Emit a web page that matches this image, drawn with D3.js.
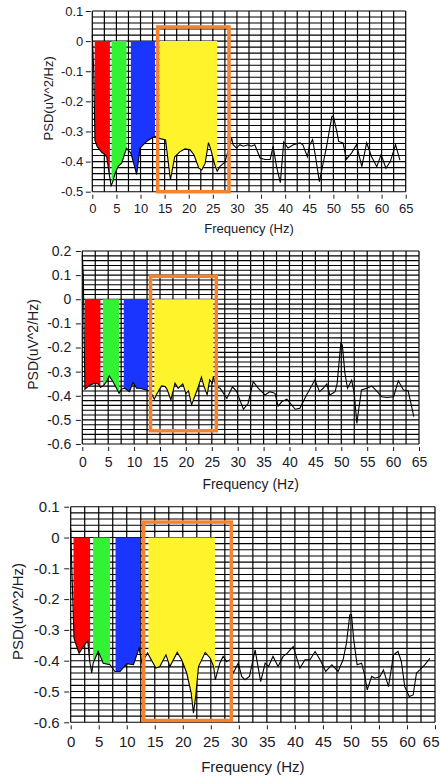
<!DOCTYPE html>
<html>
<head>
<meta charset="utf-8">
<script src="https://cdn.jsdelivr.net/npm/d3@7"></script>
<style>
  body { margin: 0; background: #fff; }
  svg { display: block; }
</style>
</head>
<body>
<div id="chart"></div>
<script>
// ---- data (Hz, PSD) ----
const xTicks = [0, 5, 10, 15, 20, 25, 30, 35, 40, 45, 50, 55, 60, 65];
const yTicksA = [0.1, 0, -0.1, -0.2, -0.3, -0.4, -0.5];
const yTicksB = [0.2, 0.1, 0, -0.1, -0.2, -0.3, -0.4, -0.5, -0.6];
const yTicksC = [0.1, 0, -0.1, -0.2, -0.3, -0.4, -0.5, -0.6];

const spectrumA = [
  [0, 0.02], [0.3, -0.1], [0.55, -0.33], [1.0, -0.35], [1.5, -0.36], [2.0, -0.37],
  [2.5, -0.375], [3.0, -0.385], [3.5, -0.44], [3.9, -0.48], [4.2, -0.47], [4.7, -0.44],
  [5.4, -0.415], [6.1, -0.405], [6.8, -0.37], [7.1, -0.356], [7.96, -0.371], [8.5, -0.4],
  [9.2, -0.443], [9.9, -0.355], [10.5, -0.345], [11.3, -0.333], [12.0, -0.325], [13.0, -0.316],
  [13.9, -0.323], [15.2, -0.328], [16.2, -0.461], [17.1, -0.384], [18.2, -0.367], [19.2, -0.358],
  [20.3, -0.361], [21.1, -0.378], [22.1, -0.422], [22.7, -0.428], [23.4, -0.406], [24.1, -0.337],
  [24.6, -0.361], [25.4, -0.41], [25.9, -0.432], [26.5, -0.416], [27.5, -0.402], [28.9, -0.322],
  [29.2, -0.344], [29.9, -0.355], [30.6, -0.344], [31.3, -0.349], [32.3, -0.344], [33.0, -0.349],
  [33.7, -0.344], [34.8, -0.388], [35.8, -0.393], [36.9, -0.393], [37.5, -0.349], [38.2, -0.416],
  [39.0, -0.47], [39.7, -0.335], [40.6, -0.355], [41.7, -0.344], [43.1, -0.338], [43.7, -0.345],
  [44.6, -0.384], [45.1, -0.344], [45.7, -0.327], [46.3, -0.384], [47.1, -0.467], [48.6, -0.349],
  [49.7, -0.25], [50.0, -0.25], [50.7, -0.3], [51.1, -0.333], [52.0, -0.338], [52.7, -0.392],
  [53.8, -0.371], [54.8, -0.344], [55.9, -0.417], [56.9, -0.338], [57.9, -0.383], [59.0, -0.417],
  [59.9, -0.377], [60.9, -0.422], [61.8, -0.4], [62.9, -0.344], [63.8, -0.395]
];

const spectrumB = [
  [0, 0.18], [0.2, 0.1], [0.5, -0.373], [1.5, -0.355], [2.4, -0.348], [3.1, -0.351],
  [3.5, -0.365], [4.1, -0.358], [4.7, -0.341], [5.2, -0.318], [5.9, -0.341], [6.6, -0.369],
  [7.1, -0.39], [7.6, -0.372], [8.2, -0.369], [9.1, -0.383], [9.8, -0.345], [10.5, -0.369],
  [11.1, -0.369], [12.4, -0.376], [13.1, -0.38], [13.9, -0.414], [14.3, -0.396], [15.3, -0.359],
  [16.0, -0.362], [16.4, -0.375], [17.1, -0.417], [17.9, -0.348], [18.5, -0.369], [19.4, -0.351],
  [20.0, -0.39], [20.5, -0.38], [21.1, -0.438], [21.7, -0.403], [22.4, -0.362], [23.0, -0.323],
  [23.5, -0.362], [24.1, -0.396], [24.6, -0.334], [25.1, -0.348], [25.3, -0.32], [25.8, -0.362],
  [26.6, -0.369], [27.9, -0.411], [29.0, -0.363], [29.8, -0.383], [31.1, -0.456], [32.0, -0.432],
  [33.0, -0.342], [34.0, -0.369], [35.3, -0.397], [36.2, -0.383], [37.2, -0.39], [37.8, -0.443],
  [38.5, -0.425], [39.5, -0.414], [41.1, -0.456], [42.0, -0.452], [43.3, -0.397], [44.9, -0.335],
  [45.8, -0.383], [46.5, -0.369], [47.2, -0.351], [47.8, -0.397], [48.8, -0.383], [49.2, -0.349],
  [49.9, -0.183], [50.2, -0.19], [50.7, -0.307], [51.2, -0.369], [52.0, -0.335], [52.5, -0.39],
  [53.0, -0.515], [53.3, -0.466], [53.9, -0.376], [54.9, -0.369], [55.9, -0.36], [56.8, -0.38],
  [57.8, -0.404], [58.8, -0.407], [60.1, -0.404], [61.0, -0.338], [62.0, -0.376], [62.9, -0.379],
  [64.0, -0.487]
];

const spectrumC = [
  [0, 0.03], [0.2, -0.1], [0.59, -0.327], [1.07, -0.354], [1.5, -0.376], [2.0, -0.362],
  [2.5, -0.348], [3.05, -0.335], [3.35, -0.397], [3.75, -0.44], [4.0, -0.408], [4.9, -0.37],
  [5.3, -0.386], [5.8, -0.408], [7.0, -0.413], [7.9, -0.435], [8.8, -0.435], [10.0, -0.41],
  [11.2, -0.413], [12.2, -0.359], [12.7, -0.408], [13.7, -0.375], [15.2, -0.424], [15.9, -0.419],
  [17.0, -0.381], [17.7, -0.419], [19.0, -0.373], [19.8, -0.397], [20.7, -0.44], [21.5, -0.505],
  [21.9, -0.57], [22.3, -0.516], [22.8, -0.419], [24.0, -0.373], [24.9, -0.392], [25.5, -0.419],
  [25.8, -0.462], [26.6, -0.408], [27.2, -0.386], [27.8, -0.403], [28.4, -0.397], [29.0, -0.44],
  [29.9, -0.408], [30.5, -0.451], [31.1, -0.462], [31.9, -0.451], [32.9, -0.365], [33.9, -0.468],
  [34.7, -0.408], [35.3, -0.419], [36.1, -0.386], [37.0, -0.419], [37.9, -0.386], [38.6, -0.376],
  [39.7, -0.354], [40.9, -0.424], [41.8, -0.397], [42.7, -0.397], [43.6, -0.37], [44.5, -0.397],
  [45.5, -0.435], [46.6, -0.413], [47.7, -0.435], [48.6, -0.397], [49.2, -0.343], [49.8, -0.251],
  [50.1, -0.251], [50.5, -0.332], [51.1, -0.413], [51.9, -0.408], [52.5, -0.451], [52.9, -0.495],
  [53.7, -0.451], [54.3, -0.457], [55.2, -0.451], [55.8, -0.43], [56.7, -0.484], [57.6, -0.381],
  [58.4, -0.37], [59.0, -0.403], [59.6, -0.484], [60.4, -0.516], [61.1, -0.511], [61.7, -0.44],
  [62.3, -0.43], [63.2, -0.413], [64.1, -0.392]
];

// frequency bands (delta, theta, alpha, beta) in Hz
const bandsA = [[0.5, 3.65], [4, 7.1], [8, 13], [13.9, 25.9]];
const bandsB = [[0.5, 3.5], [4, 7.1], [8, 12.5], [13.9, 25.3]];
const bandsC = [[0.5, 3.45], [4, 7], [8, 12.4], [13.85, 25.75]];

// highlight box: [Hz from, Hz to, PSD top, PSD bottom]
const boxA = [13.55, 28.35, 0.047, -0.5];
const boxB = [13.17, 25.87, 0.095, -0.545];
const boxC = [13.02, 28.66, 0.05, -0.594];

const bandColors = ['#ff0000', '#33f233', '#1a35ff', '#fff42c'];
const FONT = '"Liberation Sans", Arial, sans-serif';
const TEXT = '#1a1a2a';

const panels = [
  { spectrum: spectrumA, bands: bandsA, box: boxA, yTicks: yTicksA,
    left: 92.3, right: 405.7, top: 11, bottom: 191.7, font: 13,
    yPad: 2.5, xPad: 5.3, titleOff: 37, yTitleX: 48 },
  { spectrum: spectrumB, bands: bandsB, box: boxB, yTicks: yTicksB,
    left: 82.3, right: 419, top: 251, bottom: 444, font: 14,
    yPad: 4.5, xPad: 6.5, titleOff: 40, yTitleX: 33 },
  { spectrum: spectrumC, bands: bandsC, box: boxC, yTicks: yTicksC,
    left: 70.7, right: 435, top: 506.7, bottom: 722.3, font: 15,
    yPad: 4.5, xPad: 7, titleOff: 44.4, yTitleX: 18 }
];

const svg = d3.select('#chart')
  .append('svg')
  .attr('width', 440)
  .attr('height', 777);

svg.append('rect').attr('width', 440).attr('height', 777).attr('fill', '#fff');

const fmt = d => d === 0 ? '0' : d.toFixed(1);

function drawPanel(p, i) {
  const yMin = p.yTicks[p.yTicks.length - 1];
  const yMax = p.yTicks[0];
  const x = d3.scaleLinear().domain([0, 65]).range([p.left, p.right]);
  const y = d3.scaleLinear().domain([yMin, yMax]).range([p.bottom, p.top]);
  const g = svg.append('g');

  // grid: every 2.5 Hz and every 0.02
  const vLines = d3.range(0, 27).map(k => k * 2.5);
  const hLines = d3.range(Math.round(yMin * 50), Math.round(yMax * 50) + 1).map(k => k / 50);

  g.append('g').selectAll('line').data(vLines).join('line')
    .attr('x1', d => x(d)).attr('x2', d => x(d))
    .attr('y1', p.top).attr('y2', p.bottom)
    .attr('stroke', '#000').attr('stroke-width', 1.2);

  g.append('g').selectAll('line').data(hLines).join('line')
    .attr('x1', p.left).attr('x2', p.right)
    .attr('y1', d => y(d)).attr('y2', d => y(d))
    .attr('stroke', '#000').attr('stroke-width', 1.1);

  // filled bands between 0 and the spectrum
  const area = d3.area()
    .x(d => x(d[0]))
    .y0(y(0))
    .y1(d => y(d[1]));

  p.bands.forEach((b, j) => {
    const id = `band-${i}-${j}`;
    svg.append('clipPath').attr('id', id)
      .append('rect')
      .attr('x', x(b[0])).attr('y', p.top)
      .attr('width', x(b[1]) - x(b[0])).attr('height', p.bottom - p.top);
    g.append('path')
      .datum(p.spectrum)
      .attr('d', area)
      .attr('fill', bandColors[j])
      .attr('clip-path', `url(#${id})`);
  });

  // spectrum line
  const line = d3.line()
    .x(d => x(d[0]))
    .y(d => y(d[1]));

  g.append('path')
    .datum(p.spectrum)
    .attr('d', line)
    .attr('fill', 'none')
    .attr('stroke', '#000')
    .attr('stroke-width', 1.1);

  // orange highlight box
  g.append('rect')
    .attr('x', x(p.box[0]))
    .attr('y', y(p.box[2]))
    .attr('width', x(p.box[1]) - x(p.box[0]))
    .attr('height', y(p.box[3]) - y(p.box[2]))
    .attr('fill', 'none')
    .attr('stroke', '#f5822f')
    .attr('stroke-width', 3.5);

  // axes
  g.append('g')
    .attr('transform', `translate(${p.left - 1.5},0)`)
    .call(d3.axisLeft(y).tickValues(p.yTicks).tickSize(5).tickPadding(p.yPad).tickFormat(fmt))
    .call(a => a.select('.domain').remove())
    .attr('font-family', FONT)
    .attr('font-size', p.font)
    .style('color', TEXT);

  const xAxis = g.append('g')
    .attr('transform', `translate(0,${p.bottom + 3})`)
    .call(d3.axisBottom(x).tickValues(xTicks).tickSize(4).tickPadding(p.xPad))
    .call(a => a.select('.domain').remove())
    .attr('font-family', FONT)
    .attr('font-size', p.font)
    .style('color', TEXT);

  // keep the last tick label inside the page
  xAxis.selectAll('.tick text')
    .filter(d => d === 65)
    .attr('dx', Math.min(0, 439 - p.right - p.font * 0.556));

  // axis titles
  g.append('text')
    .attr('x', (p.left + p.right) / 2)
    .attr('y', p.bottom + p.titleOff)
    .attr('dy', '0.35em')
    .attr('text-anchor', 'middle')
    .attr('font-family', FONT)
    .attr('font-size', p.font)
    .attr('fill', TEXT)
    .text('Frequency (Hz)');

  g.append('text')
    .attr('transform', `translate(${p.yTitleX},${(p.top + p.bottom) / 2 - 3}) rotate(-90)`)
    .attr('dy', '0.35em')
    .attr('text-anchor', 'middle')
    .attr('font-family', FONT)
    .attr('font-size', p.font)
    .attr('fill', TEXT)
    .text('PSD(uV^2/Hz)');
}

panels.forEach(drawPanel);
</script>
</body>
</html>
